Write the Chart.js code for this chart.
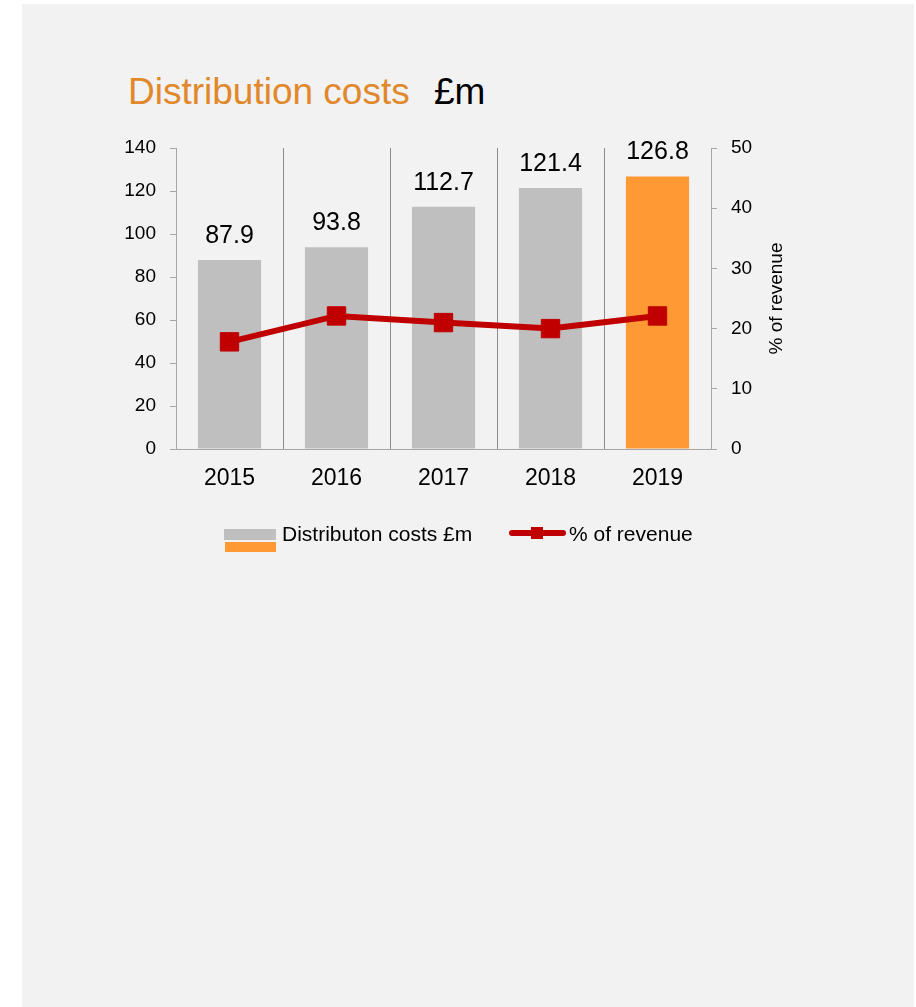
<!DOCTYPE html>
<html>
<head>
<meta charset="utf-8">
<script src="https://cdn.jsdelivr.net/npm/chart.js@4.4.1/dist/chart.umd.min.js"></script>
<style>
  html, body { margin: 0; padding: 0; background: #ffffff; }
  body { width: 916px; height: 1007px; position: relative; overflow: hidden; font-family: 'Liberation Sans', Arial, sans-serif; }
  #panel { position: absolute; left: 22px; top: 4px; width: 892px; height: 1003px; background: #f2f2f2; }
  #wrap { position: absolute; left: 0; top: 0; width: 916px; height: 1007px; }
  .title { position: absolute; top: 73px; font-size: 37px; line-height: 37px; white-space: nowrap; }
  .legend-text { position: absolute; top: 523px; font-size: 21px; line-height: 21px; color: #000; white-space: nowrap; }
  .sw { position: absolute; }
</style>
</head>
<body>
<div id="panel"></div>
<div class="title" style="left:128px;color:#e0882a;">Distribution costs</div>
<div class="title" style="left:434px;color:#000;">£m</div>
<div id="wrap"><canvas id="costChart" width="916" height="1007"></canvas></div>
<div class="sw" style="left:224px;top:529px;width:52px;height:11px;background:#bfbfbf;"></div>
<div class="sw" style="left:225px;top:542px;width:51px;height:10px;background:#ff9933;"></div>
<div class="legend-text" style="left:282px;">Distributon costs £m</div>
<div class="sw" style="left:509px;top:530px;width:57px;height:6px;border-radius:3px;background:#c00000;"></div>
<div class="sw" style="left:531px;top:527px;width:12px;height:12px;background:#c00000;"></div>
<div class="legend-text" style="left:569px;">% of revenue</div>
<script>
  // 数据
  const years = ['2015', '2016', '2017', '2018', '2019'];
  const costs = [87.9, 93.8, 112.7, 121.4, 126.8];
  const revenuePct = [17.8, 22.1, 21.0, 20.0, 22.1];
  const leftMax = 140, leftStep = 20;
  const rightMax = 50, rightStep = 10;
  const rightTitle = '% of revenue';

  const FONT = "'Liberation Sans', Arial, sans-serif";
  const barColors = years.map((y, i) => i === years.length - 1 ? '#ff9933' : '#bfbfbf');

  // 柱顶数值标签
  const barLabels = {
    id: 'barLabels',
    afterDatasetsDraw(chart) {
      const meta = chart.getDatasetMeta(0);
      const ctx = chart.ctx;
      ctx.save();
      ctx.font = '25px ' + FONT;
      ctx.fillStyle = '#000';
      ctx.textAlign = 'center';
      ctx.textBaseline = 'alphabetic';
      meta.data.forEach((bar, i) => ctx.fillText(costs[i].toFixed(1), bar.x, bar.y - 17));
      ctx.restore();
    }
  };

  // 右轴标题（自下而上）
  const rightAxisTitle = {
    id: 'rightAxisTitle',
    afterDraw(chart) {
      const s = chart.scales.y1, a = chart.chartArea, ctx = chart.ctx;
      ctx.save();
      ctx.translate(s.left + 66, (a.top + a.bottom) / 2);
      ctx.rotate(-Math.PI / 2);
      ctx.font = '19px ' + FONT;
      ctx.fillStyle = '#000';
      ctx.textAlign = 'center';
      ctx.textBaseline = 'middle';
      ctx.fillText(rightTitle, 0, 0);
      ctx.restore();
    }
  };

  const ctx = document.getElementById('costChart').getContext('2d');
  new Chart(ctx, {
    type: 'bar',
    data: {
      labels: years,
      datasets: [
        { label: 'Distributon costs £m', data: costs, backgroundColor: barColors, borderWidth: 0, barPercentage: 0.59, categoryPercentage: 1, yAxisID: 'y', order: 1 },
        { label: '% of revenue', data: revenuePct, type: 'line', yAxisID: 'y1', order: 0, borderColor: '#c00000', borderWidth: 6, pointStyle: 'rect', pointRadius: 13, pointBackgroundColor: '#c00000', pointBorderColor: '#c00000', pointBorderWidth: 1, tension: 0, fill: false, clip: false }
      ]
    },
    options: {
      responsive: false, animation: false, devicePixelRatio: 1,
      layout: { padding: { top: 148, bottom: 508, left: 0, right: 0 } },
      plugins: { legend: { display: false }, tooltip: { enabled: false } },
      scales: {
        x: {
          grid: { offset: true, drawTicks: false, color: '#8c8c8c', lineWidth: 1 },
          border: { color: '#a6a6a6', width: 1 },
          ticks: { color: '#000', font: { family: FONT, size: 23 }, padding: 16 },
          afterFit: s => { s.height = 50; }
        },
        y: {
          position: 'left', min: 0, max: leftMax,
          grid: { drawOnChartArea: false, tickLength: 6, color: '#a6a6a6' },
          border: { color: '#a6a6a6', width: 1 },
          ticks: { stepSize: leftStep, color: '#000', font: { family: FONT, size: 19 }, padding: 14 },
          afterFit: s => { s.width = 176; }
        },
        y1: {
          position: 'right', min: 0, max: rightMax,
          grid: { drawOnChartArea: false, tickLength: 6, color: '#a6a6a6' },
          border: { color: '#a6a6a6', width: 1 },
          ticks: { stepSize: rightStep, color: '#000', font: { family: FONT, size: 19 }, padding: 14 },
          afterFit: s => { s.width = 205; }
        }
      }
    },
    plugins: [barLabels, rightAxisTitle]
  });
</script>
</body>
</html>
